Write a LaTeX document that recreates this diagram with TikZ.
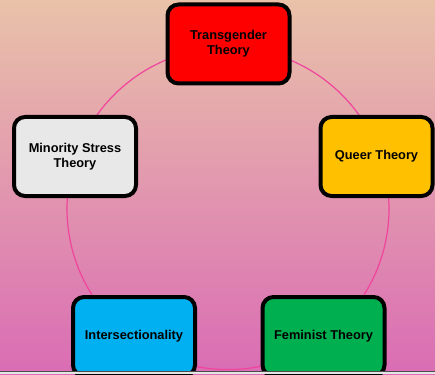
\documentclass[tikz,border=0pt]{standalone}
\usepackage{fontspec}
\setmainfont{Liberation Sans}
\usepackage{tikz}

\definecolor{bgtop}{HTML}{E9C2A9}
\definecolor{bgmid}{HTML}{EA9AB6}
\definecolor{bgbot}{HTML}{DA6CB4}
\definecolor{ringpink}{HTML}{F0449C}
\definecolor{trred}{HTML}{FF0000}
\definecolor{qyellow}{HTML}{FFC000}
\definecolor{fgreen}{HTML}{00B050}
\definecolor{iblue}{HTML}{00B0F0}
\definecolor{mgray}{HTML}{E8E8E8}

\tikzset{
  theory/.style={draw=black,line width=4pt,rounded corners=11pt,
    minimum width=#1,minimum height=79pt,inner sep=0pt,align=center,
    font=\fontsize{12.8}{15}\selectfont\bfseries},
  theory/.default=122pt,
  ring/.style={ringpink,line width=1.2pt}
}

\begin{document}
\begin{tikzpicture}[x=1pt,y=-1pt]
    \useasboundingbox (0,0) rectangle (435,374);
    \shade[top color=bgtop,middle color=bgmid,bottom color=bgbot] (0,0) rectangle (435,374);

    \coordinate (hub) at (228,208.6);
    \draw[ring] (hub) circle (161pt);

    \node[theory,fill=trred](trans)at(228.5,44){Transgender\\Theory};
    \node[theory,fill=mgray](minority)at(75,156.5){Minority Stress\\Theory};
    \node[theory=112pt,fill=qyellow](queer)at(376.5,156.5){Queer Theory};
    \node[theory,fill=iblue](inter)at(134,336.5){Intersectionality};
    \node[theory,fill=fgreen](fem)at(323.5,336.5){Feminist Theory};

    % strip at the foot
    \fill[gray!20] (0,371) rectangle (435,374);
    \draw[black!70,line width=1pt] (0,371) -- (435,371);
  \end{tikzpicture}
\end{document}
